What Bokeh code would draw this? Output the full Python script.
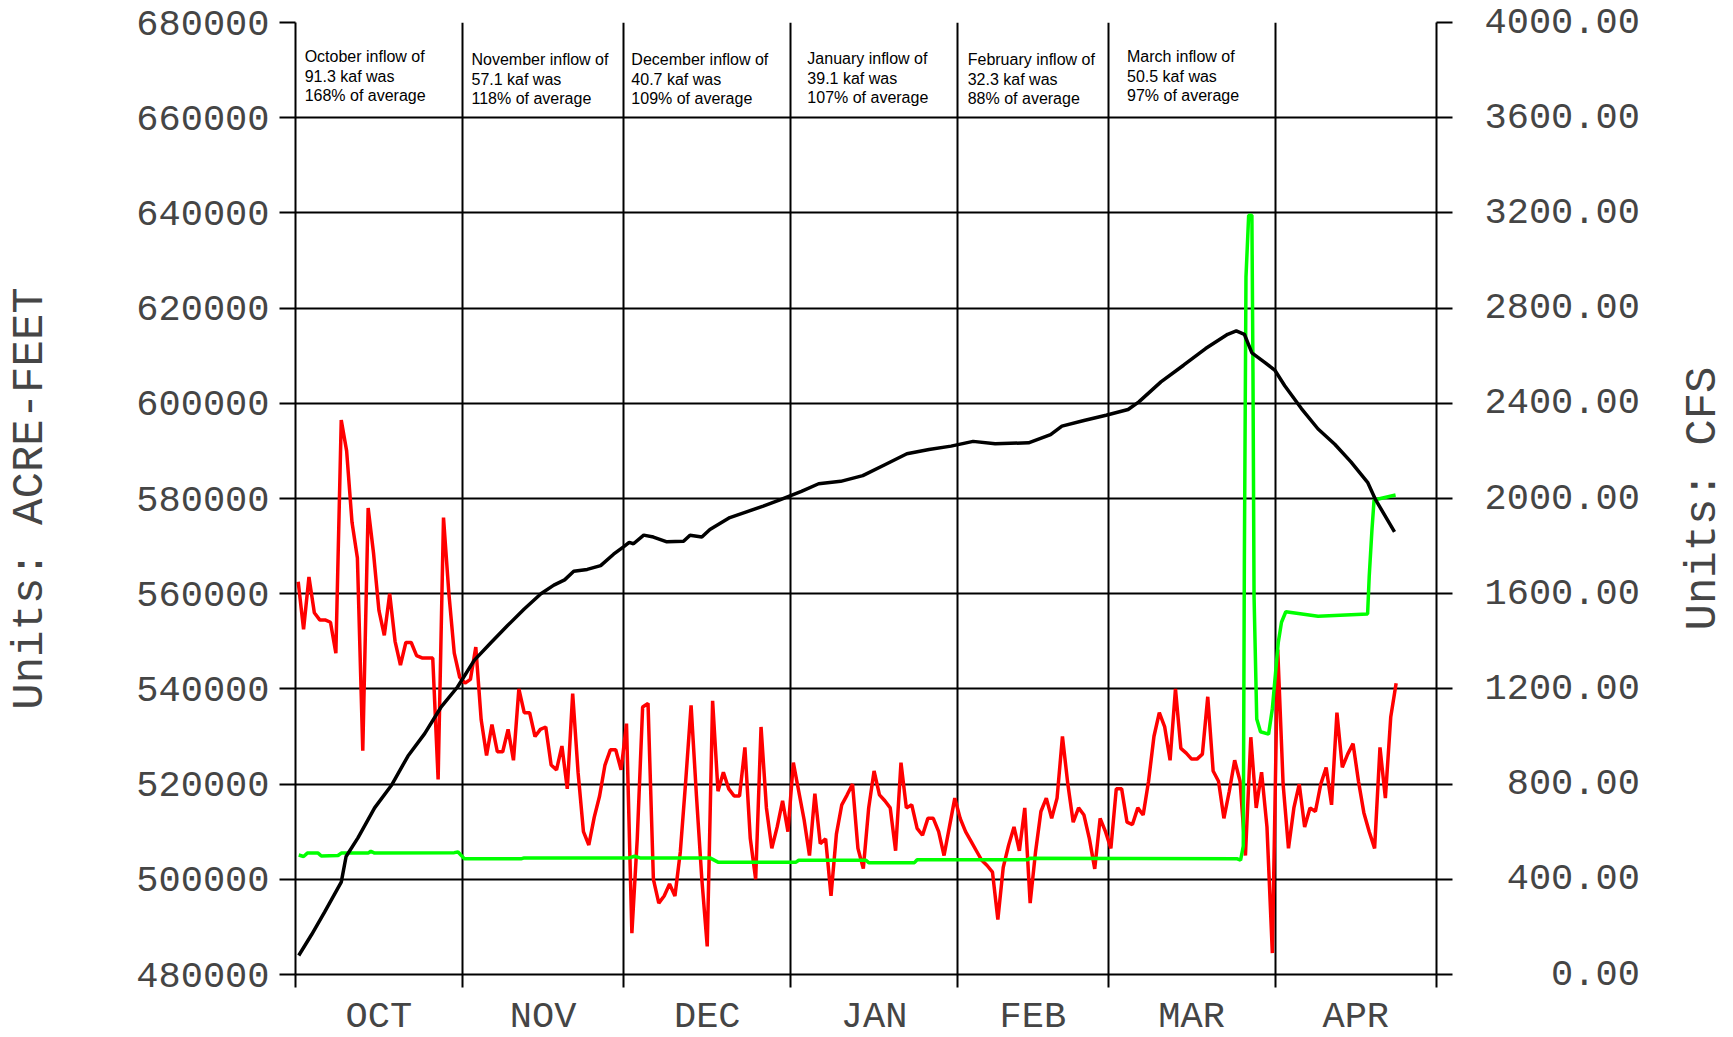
import numpy as np
from math import pi
from bokeh.plotting import figure
from bokeh.layouts import row, column
from bokeh.models import Range1d, LinearAxis, FixedTicker
from bokeh.core.properties import value
from bokeh.embed import file_html
from bokeh.resources import INLINE

# ---------------- data ----------------
month_names = ["OCT", "NOV", "DEC", "JAN", "FEB", "MAR", "APR"]
month_starts = [0, 31, 61, 92, 123, 151, 182, 212]          # day of water year
af_ticks = list(range(480000, 680001, 20000))
cfs_ticks = list(range(0, 4001, 400))

notes = [
    ["October inflow of", "91.3 kaf was", "168% of average"],
    ["November inflow of", "57.1 kaf was", "118% of average"],
    ["December inflow of", "40.7 kaf was", "109% of average"],
    ["January inflow of", "39.1 kaf was", "107% of average"],
    ["February inflow of", "32.3 kaf was", "88% of average"],
    ["March inflow of", "50.5 kaf was", "97% of average"],
]

# daily inflow (CFS), red
inflow_oct = [1650, 1450, 1670, 1520, 1490, 1490, 1480, 1350, 2330, 2200, 1900, 1750, 940, 1960, 1770,
              1530, 1425, 1600, 1400, 1300, 1395, 1395, 1340, 1330, 1330, 1330, 820, 1920, 1600, 1350, 1250]
inflow_nov = [1224, 1240, 1376, 1070, 920, 1050, 936, 936, 1030, 900, 1200, 1100, 1100, 1000, 1030,
              1040, 880, 860, 960, 780, 1180, 850, 600, 544, 660, 750, 880, 944, 944, 860]
inflow_dec = [1054, 174, 571, 1124, 1139, 400, 300, 330, 380, 330, 515, 812, 1131, 750, 400,
              118, 1150, 770, 850, 780, 750, 750, 954, 571, 400, 1040, 700, 530, 620, 730, 600]
inflow_jan = [890, 770, 650, 500, 760, 550, 570, 330, 590, 713, 755, 800, 530, 445, 700,
              855, 755, 730, 700, 520, 890, 700, 713, 614, 585, 656, 656, 600, 500, 620, 741]
inflow_feb = [656, 600, 560, 520, 480, 458, 430, 231, 450, 543, 620, 520, 700, 300, 515,
              685, 741, 656, 741, 1000, 800, 640, 700, 670, 571, 444, 656, 600]
inflow_mar = [530, 780, 780, 640, 630, 700, 670, 812, 1000, 1100, 1040, 900, 1200, 950, 930,
              905, 905, 926, 1167, 855, 812, 656, 770, 900, 812, 500, 997, 700, 850, 620, 90]
inflow_apr = [1365, 800, 530, 700, 800, 620, 700, 685, 800, 870, 713, 1100, 870, 926, 970,
              812, 680, 600, 530, 954, 741, 1082, 1224]
inflow_cfs = inflow_oct + inflow_nov + inflow_dec + inflow_jan + inflow_feb + inflow_mar + inflow_apr
inflow_days = np.arange(len(inflow_cfs)) + 0.5

# storage (acre-feet), black
storage_days = [0.6, 3, 5.4, 8.5, 9.4, 11.6, 14.7, 17.8, 20.9, 24, 27, 30.1, 33.2, 36.3, 39.4, 42.5,
                45.6, 48, 50, 51.7, 54.2, 56.7, 59.1, 61, 62, 62.8, 64.7, 66.5, 69, 72.1, 73.3, 75.5,
                77, 80.7, 83.8, 86.9, 90, 94, 97.2, 101.3, 105.4, 109.5, 113.6, 117.7, 121.8, 125.9,
                130, 136.2, 140.3, 142.4, 146.5, 150.6, 154.7, 156.7, 160.8, 165, 169.1, 173.2, 174.8,
                176.3, 177.7, 180.2, 182, 183.8, 186.9, 190, 193.1, 196.1, 199.2, 200.7, 204.2]
storage_af = [484000, 488400, 493100, 499400, 504800, 508700, 515000, 519700, 525900, 530600, 536100,
              540400, 546000, 549700, 553300, 556800, 560000, 561800, 562900, 564700, 565100, 565900,
              568300, 569900, 570800, 570500, 572300, 571900, 570900, 571000, 572300, 571900, 573500,
              576000, 577200, 578400, 579700, 581500, 583100, 583600, 584800, 587100, 589400, 590300,
              591000, 592000, 591500, 591700, 593400, 595200, 596400, 597500, 598700, 600300, 604500,
              608000, 611500, 614500, 615200, 614500, 610600, 608500, 606900, 603700, 598900, 594600,
              591400, 587700, 583400, 579700, 573000]

# outflow (CFS), green
outflow_days = [0.6, 1.5, 2.2, 4.2, 4.8, 7.9, 8.5, 13.5, 14.0, 14.7, 29.5, 30.2, 31.4, 41.9, 42.5,
                62, 63, 64, 77, 78.5, 93, 93.5, 106, 106.5, 115, 115.5, 136, 136.5, 175, 175.6,
                176.1, 176.3, 176.6, 177.1, 177.7, 177.9, 178.1, 178.6, 179.3, 180.8, 181.5, 182.6,
                183.2, 184.0, 190, 199.2, 199.5, 200.0, 200.4, 204.4]
outflow_cfs = [502, 496, 510, 510, 498, 500, 510, 510, 518, 510, 512, 515, 486, 486, 490,
               490, 497, 490, 490, 472, 472, 480, 480, 470, 470, 482, 482, 488, 486, 480,
               540, 1740, 2930, 3190, 3190, 2530, 1590, 1074, 1020, 1010, 1117, 1395,
               1480, 1524, 1505, 1515, 1673, 1866, 1994, 2015]

# ---------------- layout ----------------
PAGE_W, PAGE_H = 1733, 1037
TITLE_W = 60                      # strip on the right holding the right-hand axis title
LABEL_H = 41                      # strip below holding the month names
W = PAGE_W - TITLE_W
H = PAGE_H - LABEL_H
FRAME_L, FRAME_R, FRAME_T, FRAME_B = 295, 1436, 22, 974
BL, BR, BT, BB = FRAME_L, W - FRAME_R, FRAME_T, H - FRAME_B
FH = FRAME_B - FRAME_T
MONTH_LABEL_Y = 1016              # page y of the month-name centres

MONO = "Liberation Mono"
TXT = "#454545"
af_per_px = (af_ticks[-1] - af_ticks[0]) / FH

p = figure(width=W, height=H, output_backend="svg", toolbar_location=None,
           x_range=Range1d(month_starts[0], month_starts[-1]),
           y_range=Range1d(af_ticks[0], af_ticks[-1]),
           min_border_left=BL, min_border_right=BR, min_border_top=BT, min_border_bottom=BB)
p.extra_y_ranges = {"cfs": Range1d(cfs_ticks[0], cfs_ticks[-1])}
p.outline_line_color = None
p.background_fill_color = "white"

# grid
p.xgrid.ticker = FixedTicker(ticks=month_starts)
p.ygrid.ticker = FixedTicker(ticks=af_ticks)
for g in (p.xgrid[0], p.ygrid[0]):
    g.grid_line_color = "black"
    g.grid_line_width = 2
    g.grid_line_alpha = 1.0

def style_axis(ax):
    ax.axis_line_color = "black"
    ax.axis_line_width = 2
    ax.major_tick_line_color = "black"
    ax.major_tick_line_width = 2
    ax.major_tick_in = 0
    ax.minor_tick_line_color = None
    ax.major_label_text_font = MONO
    ax.major_label_text_font_size = "37px"
    ax.major_label_text_color = TXT

# bottom axis: only the month-boundary tick marks
xa = p.xaxis[0]
xa.ticker = FixedTicker(ticks=month_starts)
style_axis(xa)
xa.major_tick_out = 13
xa.major_label_overrides = {m: " " for m in month_starts}
xa.major_label_text_font_size = "1px"
xa.major_label_standoff = 0

# left axis
ya = p.yaxis[0]
ya.ticker = FixedTicker(ticks=af_ticks)
style_axis(ya)
ya.major_tick_out = 16
ya.major_label_standoff = 10
ya.major_label_overrides = {t: str(t) for t in af_ticks}
ya.axis_label = "Units: ACRE-FEET"
ya.axis_label_text_font = MONO
ya.axis_label_text_font_size = "44px"
ya.axis_label_text_font_style = "normal"
ya.axis_label_text_color = TXT
ya.axis_label_standoff = 78

# right axis
ra = LinearAxis(y_range_name="cfs", ticker=FixedTicker(ticks=cfs_ticks))
style_axis(ra)
ra.major_tick_out = 16
ra.major_label_standoff = 32
width7 = len("%.2f" % cfs_ticks[-1])
ra.major_label_overrides = {t: ("%.2f" % t).rjust(width7, "\u00a0") for t in cfs_ticks}
p.add_layout(ra, "right")

# data lines
p.line(inflow_days, inflow_cfs, y_range_name="cfs", line_color="#ff0000", line_width=3.5)
p.line(outflow_days, outflow_cfs, y_range_name="cfs", line_color="#00ff00", line_width=3.5)
p.line(storage_days, storage_af, line_color="black", line_width=3.5)

# notes in the top row
note_x = [1.7, 32.7, 62.4, 95.1, 124.9, 154.5]
note_top_px = [34, 37, 37, 36, 37, 34]
nx, ny, nt = [], [], []
for i, lines in enumerate(notes):
    for j, s in enumerate(lines):
        nx.append(note_x[i])
        ny.append(af_ticks[-1] - (note_top_px[i] + 19.5 * j) * af_per_px)
        nt.append(s)
p.text(x=nx, y=ny, text=nt, text_font=value("Liberation Sans"), text_font_size=value("16px"),
       text_color="black", text_align="left", text_baseline="middle")

# right-hand axis title in its own narrow strip (reads bottom to top)
pt = figure(width=TITLE_W, height=H, output_backend="svg", toolbar_location=None,
            x_range=Range1d(0, TITLE_W), y_range=Range1d(0, 1),
            x_axis_type=None, y_axis_type=None, min_border=0)
pt.outline_line_color = None
pt.text(x=[29], y=[0.5], text=["Units: CFS"], angle=pi / 2,
        text_font=value(MONO), text_font_size=value("44px"), text_color=TXT,
        text_align="center", text_baseline="middle")

# month names in a strip below the chart, sharing its x range
mids = [(month_starts[k] + month_starts[k + 1]) / 2 for k in range(len(month_names))]
pb = figure(width=W, height=LABEL_H, output_backend="svg", toolbar_location=None,
            x_range=p.x_range, y_range=Range1d(0, LABEL_H),
            x_axis_type=None, y_axis_type=None,
            min_border_left=BL, min_border_right=BR, min_border_top=0, min_border_bottom=0)
pb.outline_line_color = None
pb.text(x=mids, y=[LABEL_H - (MONTH_LABEL_Y - H)] * len(mids), text=month_names,
        text_font=value(MONO), text_font_size=value("37px"), text_color=TXT,
        text_align="center", text_baseline="middle")

layout = column(row(p, pt), pb)
open("out.html", "w").write(file_html(layout, INLINE))
